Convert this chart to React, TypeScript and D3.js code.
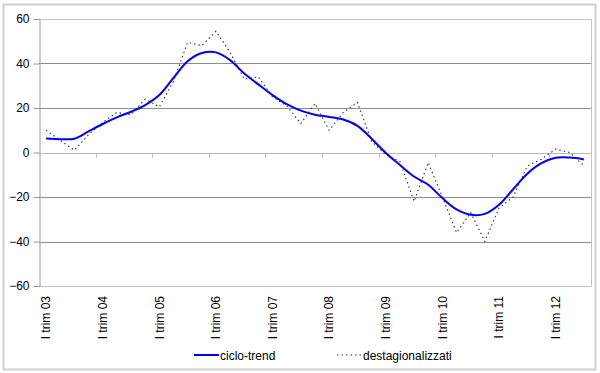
import React, { useEffect, useRef } from "react";
import * as d3 from "d3";

// quarters from I trim 03 to III trim 12
const years = ["03", "04", "05", "06", "07", "08", "09", "10", "11", "12"];
const quarters: string[] = [];
years.forEach((y) => {
  ["I", "II", "III", "IV"].forEach((q) => quarters.push(q + " trim " + y));
});
quarters.splice(39); // last one is III trim 12

const cicloTrend = [
  6.3, 6, 6.2, 9.5, 12.8, 15.8, 18.3, 21.3, 25.8, 33.5, 41, 44.7, 45, 41.5,
  35.5, 30.6, 25.8, 21.7, 18.8, 17, 16, 14.8, 12, 6.2, -0.2, -5.6, -10.8,
  -14.5, -20.5, -25.6, -28, -27.6, -23.5, -16.5, -9.5, -4.8, -2.4, -2.3, -3.1,
];
const destag = [
  10, 5.5, 1, 8, 13.5, 18, 17, 24, 20.5, 32, 49.5, 48, 54.5, 45, 33, 34, 25,
  21, 13, 22, 10, 18, 22.5, 5, -1, -4, -22, -4.5, -20, -36, -27, -40, -25,
  -20, -6, -3, 1.5, 0, -6,
];
const yTicks = [60, 40, 20, 0, -20, -40, -60];

export default function App() {
  const svgRef = useRef<SVGSVGElement>(null);

  useEffect(() => {
    const svg = d3.select(svgRef.current);
    svg.selectAll("*").remove();
    const font = "'Liberation Sans', Arial, sans-serif";

    const left = 39, right = 591, top = 19, bottom = 286;

    const x = d3.scaleBand().domain(quarters).range([left, right]);
    const y = d3.scaleLinear().domain([-60, 60]).range([bottom, top]);
    const cx = (i: number) => (x(quarters[i]) as number) + x.bandwidth() / 2;

    // outer frame
    svg.append("rect")
      .attr("x", 3.5).attr("y", 4.5).attr("width", 592).attr("height", 365)
      .attr("fill", "white").attr("stroke", "#cfcfcf").attr("stroke-width", 2);

    // gridlines
    svg.selectAll(".grid")
      .data(yTicks.filter((t) => t != 0 && t != 60 && t != -60))
      .join("line")
      .attr("x1", left).attr("x2", right)
      .attr("y1", (d) => Math.round(y(d)) + 0.5).attr("y2", (d) => Math.round(y(d)) + 0.5)
      .attr("stroke", "#8c8c8c");

    // plot area border (top / right / bottom)
    svg.append("path")
      .attr("d", `M${left},${top + 0.5}H${right + 0.5}V${bottom + 0.5}H${left}`)
      .attr("fill", "none").attr("stroke", "#c4c4c4");

    // y axis
    const yAxis = d3.axisLeft(y).tickValues(yTicks).tickSize(6).tickPadding(4);
    const gy = svg.append("g")
      .attr("transform", `translate(${left + 0.5},0)`)
      .call(yAxis);
    gy.select(".domain").attr("stroke", "#9a9a9a");
    gy.selectAll(".tick line").attr("stroke", "#9a9a9a");
    gy.selectAll("text")
      .attr("font-family", font).attr("font-size", 12).attr("fill", "#000");

    // x axis at zero
    const zeroY = Math.round(y(0)) + 0.5;
    svg.append("line")
      .attr("x1", left).attr("x2", right).attr("y1", zeroY).attr("y2", zeroY)
      .attr("stroke", "#b8b8b8");
    const boundaries = quarters
      .map((q, i) => i)
      .filter((i) => i % 4 == 0 && i > 0)
      .map((i) => x(quarters[i]) as number);
    svg.selectAll(".xtick")
      .data(boundaries)
      .join("line")
      .attr("x1", (d) => Math.round(d) + 0.5).attr("x2", (d) => Math.round(d) + 0.5)
      .attr("y1", zeroY).attr("y2", zeroY + 4)
      .attr("stroke", "#b8b8b8");

    // category labels, rotated
    const labelIdx = quarters.map((q, i) => i).filter((i) => i % 4 == 0);
    svg.selectAll(".xlab")
      .data(labelIdx)
      .join("text")
      .attr("transform", (i) => `translate(${cx(i)},296) rotate(-90)`)
      .attr("dy", "0.35em")
      .attr("text-anchor", "end")
      .attr("font-family", font).attr("font-size", 12)
      .text((i) => quarters[i]);

    // series
    const dotted = d3.line<number>()
      .x((d, i) => cx(i))
      .y((d) => y(d));
    svg.append("path")
      .datum(destag)
      .attr("d", dotted)
      .attr("fill", "none").attr("stroke", "#333")
      .attr("stroke-width", 1.1).attr("stroke-dasharray", "1.5 3");

    const smooth = d3.line<number>()
      .x((d, i) => cx(i))
      .y((d) => y(d))
      .curve(d3.curveCatmullRom.alpha(0.5));
    svg.append("path")
      .datum(cicloTrend)
      .attr("d", smooth)
      .attr("fill", "none").attr("stroke", "#0000ff").attr("stroke-width", 2);

    // legend
    const legend = [
      { name: "ciclo-trend", x: 194, color: "#0000ff", w: 2, dash: "none" },
      { name: "destagionalizzati", x: 337, color: "#333", w: 1.1, dash: "1.5 3" },
    ];
    const lg = svg.selectAll(".leg").data(legend).join("g");
    lg.append("line")
      .attr("x1", (d) => d.x).attr("x2", (d) => d.x + 25)
      .attr("y1", 355).attr("y2", 355)
      .attr("stroke", (d) => d.color).attr("stroke-width", (d) => d.w)
      .attr("stroke-dasharray", (d) => d.dash);
    lg.append("text")
      .attr("x", (d) => d.x + 26).attr("y", 359.5)
      .attr("font-family", font).attr("font-size", 12)
      .text((d) => d.name);
  }, []);

  return (
    <svg ref={svgRef} width={600} height={373}
      style={{ position: "absolute", left: 0, top: 0 }} />
  );
}
